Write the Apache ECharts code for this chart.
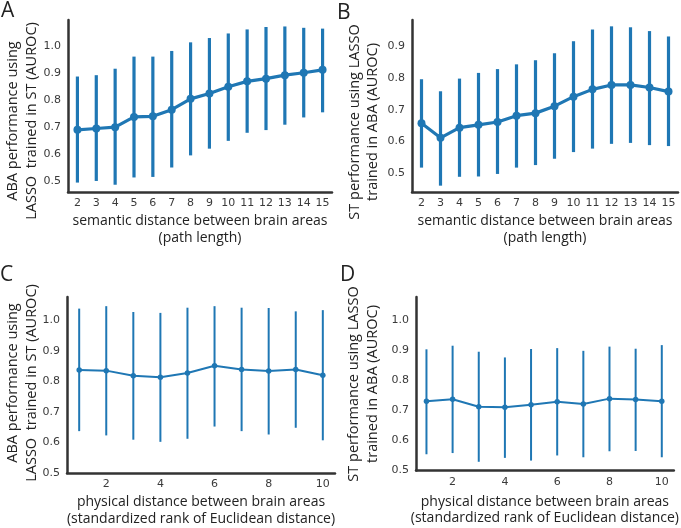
<!DOCTYPE html>
<html>
<head>
<meta charset="utf-8">
<script src="https://cdn.jsdelivr.net/npm/echarts@6/dist/echarts.min.js"></script>
<style>html,body{margin:0;padding:0;background:#fff}#c{width:681px;height:528px}</style>
</head>
<body>
<div id="c"></div>
<script>
// ---- data ----
const semanticDist = ['2','3','4','5','6','7','8','9','10','11','12','13','14','15'];
const aMean = [0.690,0.695,0.700,0.738,0.740,0.765,0.805,0.825,0.850,0.870,0.880,0.893,0.902,0.913];
const aLow  = [0.494,0.500,0.486,0.513,0.515,0.550,0.595,0.620,0.649,0.679,0.689,0.709,0.736,0.755];
const aHigh = [0.888,0.893,0.917,0.962,0.962,0.983,1.015,1.031,1.048,1.063,1.072,1.074,1.069,1.066];

const bMean = [0.658,0.612,0.644,0.653,0.662,0.682,0.690,0.712,0.742,0.765,0.779,0.779,0.771,0.758];
const bLow  = [0.518,0.461,0.489,0.490,0.498,0.518,0.526,0.546,0.567,0.578,0.593,0.596,0.589,0.586];
const bHigh = [0.797,0.759,0.799,0.817,0.829,0.844,0.857,0.879,0.917,0.954,0.964,0.961,0.949,0.932];

const physDist = [1,2,3,4,5,6,7,8,9,10];
const cMean = [0.837,0.835,0.818,0.813,0.827,0.851,0.839,0.834,0.839,0.820];
const cLow  = [0.637,0.623,0.609,0.602,0.612,0.652,0.637,0.626,0.648,0.607];
const cHigh = [1.038,1.046,1.027,1.024,1.041,1.046,1.041,1.040,1.029,1.033];

const dMean = [0.730,0.737,0.712,0.710,0.719,0.729,0.721,0.739,0.736,0.730];
const dLow  = [0.554,0.558,0.529,0.542,0.533,0.550,0.544,0.564,0.565,0.544];
const dHigh = [0.903,0.915,0.895,0.876,0.904,0.907,0.898,0.912,0.905,0.917];

const semanticTitle = 'semantic distance between brain areas\n(path length)';
const physTitle = 'physical distance between brain areas\n(standardized rank of Euclidean distance)';
const abaTitle = 'ABA performance using\nLASSO  trained in ST (AUROC)';
const stTitle = 'ST performance using LASSO\ntrained in ABA (AUROC)';

// ---- styling ----
const COLOR = '#1f77b4';
const AXIS = '#333333';
const TXT = '#222222';
const TICK = '#3a3a3a';
const TITLE_FONT = '"Open Sans", "Noto Sans", sans-serif';
const TICK_FONT = '"DejaVu Sans", sans-serif';

function yFmt(v){
  const r = Math.round(v*10);
  return Math.abs(v*10 - r) < 1e-6 ? (r/10).toFixed(1) : '';
}
function xEvenFmt(v){
  const r = Math.round(v);
  return (Math.abs(v - r) < 1e-6 && r % 2 === 0) ? String(r) : '';
}
function errRender(width){
  return function(params, api){
    const x = api.value(0);
    const p1 = api.coord([x, api.value(1)]);
    const p2 = api.coord([x, api.value(2)]);
    return {type:'line', shape:{x1:p1[0], y1:p1[1], x2:p2[0], y2:p2[1]},
            style:{stroke:COLOR, lineWidth:width}};
  };
}
function axisLineCfg(){ return {show:true, lineStyle:{color:AXIS, width:2.5}}; }

function yAxisCfg(idx, min, max){
  return {type:'value', gridIndex:idx, min:min, max:max, splitLine:{show:false},
    axisLine:axisLineCfg(), axisTick:{show:false},
    axisLabel:{formatter:yFmt, fontFamily:TICK_FONT, fontSize:11, color:TICK, margin:7}};
}
function xNameStyle(){ return {fontFamily:TITLE_FONT, fontSize:14, color:TXT, lineHeight:16.5}; }

const grids = [
  {left:68, top:20, width:264, height:172},
  {left:412, top:20, width:266, height:172},
  {left:67, top:297, width:268, height:176.5},
  {left:416, top:297, width:264, height:173.5}
];

const xAxes = [
  {type:'category', gridIndex:0, data:semanticDist, boundaryGap:true,
   axisLine:axisLineCfg(), axisTick:{show:false},
   axisLabel:{interval:0, fontFamily:TICK_FONT, fontSize:11, color:TICK, margin:6},
   name:semanticTitle, nameLocation:'middle', nameGap:21, nameTextStyle:xNameStyle()},
  {type:'category', gridIndex:1, data:semanticDist, boundaryGap:true,
   axisLine:axisLineCfg(), axisTick:{show:false},
   axisLabel:{interval:0, fontFamily:TICK_FONT, fontSize:11, color:TICK, margin:6},
   name:semanticTitle, nameLocation:'middle', nameGap:21, nameTextStyle:xNameStyle()},
  {type:'value', gridIndex:2, min:0.55, max:10.45, splitLine:{show:false},
   axisLine:axisLineCfg(), axisTick:{show:false},
   axisLabel:{formatter:xEvenFmt, fontFamily:TICK_FONT, fontSize:11, color:TICK, margin:6},
   name:physTitle, nameLocation:'middle', nameGap:21, nameTextStyle:xNameStyle()},
  {type:'value', gridIndex:3, min:0.6, max:10.46, splitLine:{show:false},
   axisLine:axisLineCfg(), axisTick:{show:false},
   axisLabel:{formatter:xEvenFmt, fontFamily:TICK_FONT, fontSize:11, color:TICK, margin:6},
   name:physTitle, nameLocation:'middle', nameGap:23, nameTextStyle:xNameStyle()}
];

const yAxes = [
  yAxisCfg(0, 0.459, 1.098),
  yAxisCfg(1, 0.441, 0.984),
  yAxisCfg(2, 0.5, 1.076),
  yAxisCfg(3, 0.5, 1.077)
];

function errData(xs, lo, hi, useIndex){
  return xs.map((x, i) => [useIndex ? i : x, lo[i], hi[i]]);
}

const series = [
  {type:'custom', xAxisIndex:0, yAxisIndex:0, renderItem:errRender(3.2),
   encode:{x:0, y:[1,2]}, data:errData(semanticDist, aLow, aHigh, true), z:2, silent:true},
  {type:'line', xAxisIndex:0, yAxisIndex:0, data:aMean, symbol:'circle', symbolSize:8,
   lineStyle:{color:COLOR, width:3.2}, itemStyle:{color:COLOR}, z:3, animation:false},
  {type:'custom', xAxisIndex:1, yAxisIndex:1, renderItem:errRender(3.2),
   encode:{x:0, y:[1,2]}, data:errData(semanticDist, bLow, bHigh, true), z:2, silent:true},
  {type:'line', xAxisIndex:1, yAxisIndex:1, data:bMean, symbol:'circle', symbolSize:8,
   lineStyle:{color:COLOR, width:3.2}, itemStyle:{color:COLOR}, z:3, animation:false},
  {type:'custom', xAxisIndex:2, yAxisIndex:2, renderItem:errRender(2),
   encode:{x:0, y:[1,2]}, data:errData(physDist, cLow, cHigh, false), z:2, silent:true},
  {type:'line', xAxisIndex:2, yAxisIndex:2, data:physDist.map((x,i)=>[x,cMean[i]]), symbol:'circle', symbolSize:5.5,
   lineStyle:{color:COLOR, width:2}, itemStyle:{color:COLOR}, z:3, animation:false},
  {type:'custom', xAxisIndex:3, yAxisIndex:3, renderItem:errRender(2),
   encode:{x:0, y:[1,2]}, data:errData(physDist, dLow, dHigh, false), z:2, silent:true},
  {type:'line', xAxisIndex:3, yAxisIndex:3, data:physDist.map((x,i)=>[x,dMean[i]]), symbol:'circle', symbolSize:5.5,
   lineStyle:{color:COLOR, width:2}, itemStyle:{color:COLOR}, z:3, animation:false}
];

function yTitle(text, x, y, lh){
  return {type:'text', x:x, y:y, rotation:Math.PI/2, z:10,
    style:{text:text, fontFamily:TITLE_FONT, fontSize:14.5, fill:TXT, lineHeight:lh,
           align:'center', verticalAlign:'middle'}};
}
function letter(t, x, y){
  return {type:'text', x:x, y:y, z:10,
    style:{text:t, fontFamily:TITLE_FONT, fontSize:21, fill:TXT, align:'left', verticalAlign:'top'}};
}

const graphic = [
  yTitle(abaTitle, 22, 121, 19),
  yTitle(stTitle, 364, 122, 18.5),
  yTitle(abaTitle, 22.5, 383, 19.5),
  yTitle(stTitle, 363, 384, 19),
  letter('A', 1, 1),
  letter('B', 337, 3),
  letter('C', 0, 265),
  letter('D', 340, 265)
];

const chart = echarts.init(document.getElementById('c'), null, {renderer:'canvas'});
chart.setOption({animation:false, grid:grids, xAxis:xAxes, yAxis:yAxes, series:series, graphic:graphic});
</script>
</body>
</html>
